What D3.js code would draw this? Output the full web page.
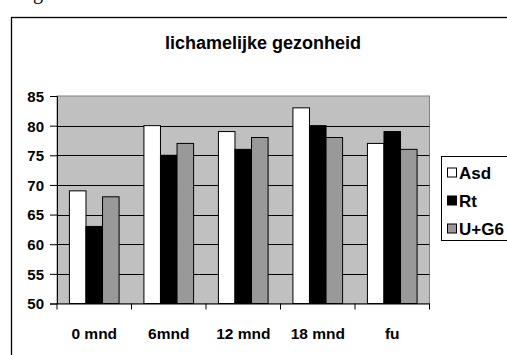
<!DOCTYPE html>
<html>
<head>
<meta charset="utf-8">
<script src="https://cdn.jsdelivr.net/npm/d3@7"></script>
<style>
  html, body { margin: 0; padding: 0; background: #fff; }
  svg { display: block; }
  text { font-family: "Liberation Sans", Arial, sans-serif; font-weight: bold; fill: #000; }
</style>
</head>
<body>
<svg id="chart" width="507" height="355"></svg>
<script>
// Scores per measurement moment for each group
const categories = ["0 mnd", "6mnd", "12 mnd", "18 mnd", "fu"];
const seriesNames = ["Asd", "Rt", "U+G6"];
const asd = [69, 80, 79, 83, 77];
const rt = [63, 75, 76, 80, 79];
const ug6 = [68, 77, 78, 78, 76];
const yTicks = [50, 55, 60, 65, 70, 75, 80, 85];
const title = "lichamelijke gezonheid";

const seriesValues = [asd, rt, ug6];
const colors = ["#ffffff", "#000000", "#999999"];

const svg = d3.select("#chart");

// fragment of the caption line above the chart frame
svg.append("text")
  .attr("x", 33).attr("y", -1)
  .style("font-family", "'Liberation Serif', 'Times New Roman', serif")
  .style("font-weight", "normal")
  .style("font-size", "20px")
  .text("g");

// outer chart frame
svg.append("rect")
  .attr("x", 11.5).attr("y", 17.5)
  .attr("width", 520).attr("height", 360)
  .attr("fill", "#fff").attr("stroke", "#000").attr("stroke-width", 1.3);

const plot = { left: 57, top: 96, right: 429.5, bottom: 303.5 };

const x = d3.scaleBand().domain(categories).range([plot.left, plot.right]).paddingInner(0).paddingOuter(0);
const y = d3.scaleLinear().domain([50, 85]).range([plot.bottom, plot.top]);

// plot area
svg.append("rect")
  .attr("x", plot.left).attr("y", plot.top)
  .attr("width", plot.right - plot.left).attr("height", plot.bottom - plot.top)
  .attr("fill", "#c0c0c0").attr("stroke", "#808080").attr("stroke-width", 1);

// gridlines
svg.append("g").selectAll("line")
  .data(yTicks.filter(t => t > 50 && t < 85))
  .join("line")
  .attr("x1", plot.left).attr("x2", plot.right)
  .attr("y1", d => Math.round(y(d)) + 0.5).attr("y2", d => Math.round(y(d)) + 0.5)
  .attr("stroke", "#000").attr("stroke-width", 1);

// bars
const barW = x.bandwidth() / 4.5;
const groupOffset = (x.bandwidth() - 3 * barW) / 2;
const sub = d3.scaleBand().domain(seriesNames).range([groupOffset, groupOffset + 3 * barW]);

const rows = categories.map((c, i) => ({ cat: c, vals: seriesValues.map((s, k) => ({ name: seriesNames[k], v: s[i], k })) }));
svg.append("g").selectAll("g")
  .data(rows)
  .join("g")
  .attr("transform", d => `translate(${x(d.cat)},0)`)
  .selectAll("rect")
  .data(d => d.vals)
  .join("rect")
  .attr("x", d => sub(d.name))
  .attr("width", sub.bandwidth())
  .attr("y", d => y(d.v))
  .attr("height", d => y(50) - y(d.v))
  .attr("fill", d => colors[d.k])
  .attr("stroke", "#000").attr("stroke-width", 1);

// y axis
const yAxis = svg.append("g")
  .attr("transform", `translate(${plot.left},0)`)
  .call(d3.axisLeft(y).tickValues(yTicks).tickSize(7).tickPadding(6));
yAxis.select(".domain").attr("stroke", "#000");
yAxis.selectAll("text").style("font-size", "15px").attr("dy", "0.36em");
yAxis.selectAll(".tick line").attr("stroke", "#000");

// x axis
const xAxis = svg.append("g")
  .attr("transform", `translate(0,${plot.bottom})`)
  .call(d3.axisBottom(x).tickSize(0).tickPadding(24));
xAxis.select(".domain").attr("stroke", "#000");
xAxis.selectAll("text").style("font-size", "15.5px");
// category separator ticks
svg.append("g").selectAll("line")
  .data(categories.map(c => x(c)).concat([plot.right]))
  .join("line")
  .attr("x1", d => d).attr("x2", d => d)
  .attr("y1", plot.bottom).attr("y2", plot.bottom + 6)
  .attr("stroke", "#000");

// title
svg.append("text")
  .attr("x", 263).attr("y", 49)
  .attr("text-anchor", "middle")
  .style("font-size", "18px")
  .text(title);

// legend
const legend = svg.append("g");
legend.append("rect")
  .attr("x", 441.5).attr("y", 156.5)
  .attr("width", 80).attr("height", 84)
  .attr("fill", "#fff").attr("stroke", "#000").attr("stroke-width", 1);
const items = legend.selectAll("g.item")
  .data(seriesNames)
  .join("g").attr("class", "item")
  .attr("transform", (d, i) => `translate(447,${172.5 + i * 28})`);
items.append("rect")
  .attr("x", 0.5).attr("y", -4.5)
  .attr("width", 9).attr("height", 9)
  .attr("fill", (d, i) => colors[i]).attr("stroke", "#000");
items.append("text")
  .attr("x", 12).attr("y", 0).attr("dy", "0.36em")
  .style("font-size", "17px")
  .text(d => d);
</script>
</body>
</html>
